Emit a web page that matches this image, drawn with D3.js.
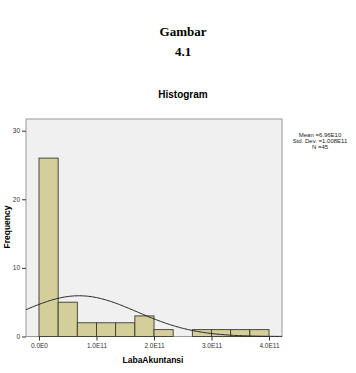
<!DOCTYPE html>
<html>
<head>
<meta charset="utf-8">
<script src="https://cdn.jsdelivr.net/npm/d3@7"></script>
<style>
  body { margin: 0; background: #fff; }
  svg text { font-family: Arial, "Liberation Sans", sans-serif; }
</style>
</head>
<body>
<div id="okvir"></div>
<script>
// podaci histograma
const binStarts = [0, 3.333e10, 6.667e10, 1.0e11, 1.333e11, 1.667e11, 2.0e11, 2.333e11, 2.667e11, 3.0e11, 3.333e11, 3.667e11]
const binWidth = 3.333e10
const counts = [26, 5, 2, 2, 2, 3, 1, 0, 1, 1, 1, 1]
const xTicks = [0, 1e11, 2e11, 3e11, 4e11]
const xTickLabels = ["0.0E0", "1.0E11", "2.0E11", "3.0E11", "4.0E11"]
const yTicks = [0, 10, 20, 30]
const statLines = ["Mean =6.96E10", "Std. Dev. =1.008E11", "N =45"]
const mean = 6.96e10
const sd = 1.008e11
const n = 45

const sirina = 356
const visina = 373
const plot = { left: 26, top: 119, right: 282, bottom: 336.5 }

const svg = d3.select("#okvir").append("svg")
    .attr("width", sirina)
    .attr("height", visina)

// naslovi
svg.append("text")
    .attr("x", 183).attr("y", 36)
    .attr("text-anchor", "middle")
    .style("font-family", "'Liberation Serif', 'Times New Roman', serif")
    .style("font-weight", "bold")
    .style("font-size", "13px")
    .text("Gambar")
svg.append("text")
    .attr("x", 183).attr("y", 56)
    .attr("text-anchor", "middle")
    .style("font-family", "'Liberation Serif', 'Times New Roman', serif")
    .style("font-weight", "bold")
    .style("font-size", "13px")
    .text("4.1")
svg.append("text")
    .attr("x", 183).attr("y", 98)
    .attr("text-anchor", "middle")
    .style("font-weight", "bold")
    .style("font-size", "10px")
    .text("Histogram")

// skale
const xSkala = d3.scaleLinear()
    .domain([-0.226e11, 4.226e11])
    .range([plot.left, plot.right])
const ySkala = d3.scaleLinear()
    .domain([0, 31.7])
    .range([plot.bottom, plot.top])

// pozadina
svg.append("rect")
    .attr("x", plot.left).attr("y", plot.top)
    .attr("width", plot.right - plot.left)
    .attr("height", plot.bottom - plot.top)
    .style("fill", "#f0f0f0")
    .style("stroke", "#9a9a9a")
    .style("stroke-width", 1)

// stupci
svg.append("g").selectAll("rect")
  .data(binStarts.map((s, i) => ({ x0: s, x1: s + binWidth, c: counts[i] })).filter(d => d.c > 0))
  .join("rect")
    .attr("x", d => xSkala(d.x0))
    .attr("y", d => ySkala(d.c))
    .attr("width", d => xSkala(d.x1) - xSkala(d.x0))
    .attr("height", d => ySkala(0) - ySkala(d.c))
    .style("fill", "#d4cf9a")
    .style("stroke", "#3a3a2a")
    .style("stroke-width", 0.9)

// normalna krivulja
const dom = xSkala.domain()
const tocke = d3.range(0, 201).map(i => {
  const x = dom[0] + (dom[1] - dom[0]) * i / 200
  const z = (x - mean) / sd
  return [x, n * binWidth / (sd * Math.sqrt(2 * Math.PI)) * Math.exp(-0.5 * z * z)]
})
svg.append("path")
    .datum(tocke)
    .attr("d", d3.line().x(d => xSkala(d[0])).y(d => ySkala(d[1])))
    .style("fill", "none")
    .style("stroke", "#222")
    .style("stroke-width", 1)

// osi
const xOs = svg.append("g")
    .attr("transform", `translate(0, ${plot.bottom})`)
    .call(d3.axisBottom(xSkala).tickValues(xTicks).tickSize(4).tickPadding(3)
      .tickFormat((d, i) => xTickLabels[i]))
xOs.select(".domain").remove()
xOs.selectAll("line").style("stroke", "#333")
xOs.selectAll("text").style("font-size", "6.5px").style("fill", "#333")

const yOs = svg.append("g")
    .attr("transform", `translate(${plot.left}, 0)`)
    .call(d3.axisLeft(ySkala).tickValues(yTicks).tickSize(4).tickPadding(2))
yOs.select(".domain").remove()
yOs.selectAll("line").style("stroke", "#333")
yOs.selectAll("text").style("font-size", "6.5px").style("fill", "#333")

// oznake osi
svg.append("text")
    .attr("transform", `translate(10, 227) rotate(-90)`)
    .attr("text-anchor", "middle")
    .style("font-weight", "bold")
    .style("font-size", "8.5px")
    .text("Frequency")
svg.append("text")
    .attr("x", 153).attr("y", 363)
    .attr("text-anchor", "middle")
    .style("font-weight", "bold")
    .style("font-size", "8.5px")
    .text("LabaAkuntansi")

// statistika
svg.append("g").selectAll("text")
  .data(statLines)
  .join("text")
    .attr("x", 320)
    .attr("y", (d, i) => 137 + i * 5.8)
    .attr("text-anchor", "middle")
    .style("font-size", "6px")
    .style("fill", "#222")
    .text(d => d)
</script>
</body>
</html>
